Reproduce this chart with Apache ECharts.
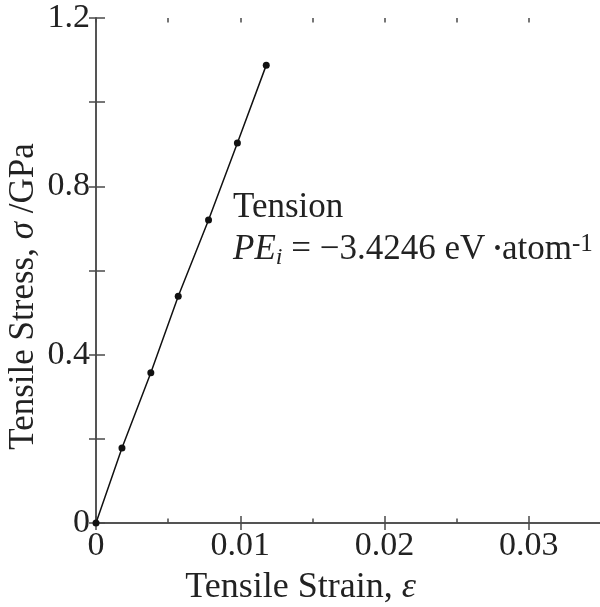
<!DOCTYPE html>
<html>
<head>
<meta charset="utf-8">
<script src="https://cdn.jsdelivr.net/npm/echarts@6/dist/echarts.min.js"></script>
<style>
  html, body { margin: 0; padding: 0; background: #fff; }
  #chart { width: 600px; height: 607px; }
</style>
</head>
<body>
<div id="chart"></div>
<script>
// Tensile stress–strain points (strain, stress in GPa)
const strain = [0, 0.0018, 0.0038, 0.0057, 0.0078, 0.0098, 0.0118];
const stress = [0, 0.178, 0.357, 0.539, 0.720, 0.903, 1.088];

// Axis ranges and tick spacing
const xRange = [0, 0.035];
const xMajor = 0.01;
const xMinor = 0.005;
const yRange = [0, 1.2];
const yTick = 0.2;
const yLabelStep = 0.4;

const FONT = "'Liberation Serif', 'Times New Roman', Times, serif";
const AXIS_COLOR = '#4a4a4a';
const TEXT_COLOR = '#222';

const chart = echarts.init(document.getElementById('chart'), null, { renderer: 'canvas' });

const gridBox = { left: 96, top: 18, width: 505, height: 505, containLabel: false, outerBoundsMode: 'none' };

const points = strain.map((x, i) => [x, stress[i]]);

function isMultiple(v, step) {
  const r = v / step;
  return Math.abs(r - Math.round(r)) < 1e-6;
}

const axisLineStyle = { show: true, lineStyle: { color: AXIS_COLOR, width: 1.5 } };

const option = {
  animation: false,
  backgroundColor: '#fff',
  grid: [
    Object.assign({}, gridBox),   // main grid: labels, major ticks, data
    Object.assign({}, gridBox)    // overlay grid: minor ticks on the strain axes
  ],
  title: {
    left: 233,
    top: 187,
    padding: 0,
    text: '{n|Tension}\n{it|PE}{sub|i}{n| = −3.4246 eV }{dot|•}{n|atom}{sup|-1}',
    textStyle: {
      fontFamily: FONT,
      fontWeight: 'normal',
      color: TEXT_COLOR,
      rich: {
        n: { fontFamily: FONT, fontSize: 35, lineHeight: 42, color: TEXT_COLOR },
        it: { fontFamily: FONT, fontSize: 35, fontStyle: 'italic', lineHeight: 42, color: TEXT_COLOR },
        sub: { fontFamily: FONT, fontSize: 24, fontStyle: 'italic', lineHeight: 42, padding: [16, 0, 0, 0], color: TEXT_COLOR },
        dot: { fontFamily: FONT, fontSize: 20, lineHeight: 42, padding: [0, 1, 0, 0], color: TEXT_COLOR },
        sup: { fontFamily: FONT, fontSize: 25, lineHeight: 42, padding: [0, 0, 12, 0], color: TEXT_COLOR }
      }
    }
  },
  xAxis: [
    {
      gridIndex: 0, type: 'value', position: 'bottom',
      min: xRange[0], max: xRange[1], interval: xMajor,
      axisLine: axisLineStyle,
      axisTick: { show: true, inside: true, length: 7, lineStyle: { color: AXIS_COLOR, width: 1.5 } },
      splitLine: { show: false },
      axisLabel: {
        show: true, margin: 6, showMaxLabel: false,
        fontFamily: FONT, fontSize: 34, color: TEXT_COLOR,
        formatter: v => (v === 0 ? '0' : (isMultiple(v, xMajor) ? v.toFixed(2) : ''))
      },
      name: 'Tensile Strain, {it|ε}',
      nameLocation: 'middle',
      nameGap: 47,
      nameTextStyle: {
        fontFamily: FONT, fontSize: 36, color: TEXT_COLOR, padding: [0, 96, 0, 0],
        rich: { it: { fontFamily: FONT, fontSize: 36, fontStyle: 'italic', color: TEXT_COLOR } }
      }
    },
    {
      gridIndex: 0, type: 'value', position: 'top',
      min: xRange[0], max: xRange[1], interval: xMajor,
      axisLine: axisLineStyle,
      axisTick: { show: true, inside: true, length: 7, lineStyle: { color: AXIS_COLOR, width: 1.5 } },
      axisLabel: { show: false },
      splitLine: { show: false }
    },
    {
      gridIndex: 1, type: 'value', position: 'bottom',
      min: xRange[0], max: xRange[1], interval: xMinor,
      axisLine: { show: false },
      axisTick: { show: true, inside: true, length: 4.5, lineStyle: { color: AXIS_COLOR, width: 1.5 } },
      axisLabel: { show: false },
      splitLine: { show: false }
    },
    {
      gridIndex: 1, type: 'value', position: 'top',
      min: xRange[0], max: xRange[1], interval: xMinor,
      axisLine: { show: false },
      axisTick: { show: true, inside: true, length: 4.5, lineStyle: { color: AXIS_COLOR, width: 1.5 } },
      axisLabel: { show: false },
      splitLine: { show: false }
    }
  ],
  yAxis: [
    {
      gridIndex: 0, type: 'value', position: 'left',
      min: yRange[0], max: yRange[1], interval: yTick,
      axisLine: axisLineStyle,
      axisTick: { show: true, inside: true, length: 9, lineStyle: { color: AXIS_COLOR, width: 1.5 } },
      splitLine: { show: false },
      axisLabel: {
        show: true, margin: 6,
        fontFamily: FONT, fontSize: 34, color: TEXT_COLOR,
        formatter: v => (v === 0 ? '0' : (isMultiple(v, yLabelStep) ? v.toFixed(1) : ''))
      },
      name: 'Tensile Stress, {it|σ} /GPa',
      nameLocation: 'middle',
      nameMoveOverlap: false,
      nameGap: 55,
      nameTextStyle: {
        fontFamily: FONT, fontSize: 35, color: TEXT_COLOR, padding: [0, 52, 0, 0],
        rich: { it: { fontFamily: FONT, fontSize: 35, fontStyle: 'italic', color: TEXT_COLOR } }
      }
    },
    {
      gridIndex: 0, type: 'value', position: 'right',
      min: yRange[0], max: yRange[1], interval: yTick,
      axisLine: axisLineStyle,
      axisTick: { show: true, inside: true, length: 7, lineStyle: { color: AXIS_COLOR, width: 1.5 } },
      axisLabel: { show: false },
      splitLine: { show: false }
    },
    {
      gridIndex: 1, type: 'value', show: false,
      min: yRange[0], max: yRange[1]
    }
  ],
  series: [
    {
      type: 'line',
      xAxisIndex: 0,
      yAxisIndex: 0,
      data: points,
      symbol: 'circle',
      symbolSize: 7,
      showSymbol: true,
      itemStyle: { color: '#111' },
      lineStyle: { color: '#111', width: 1.5 },
      z: 5
    }
  ]
};

chart.setOption(option);
</script>
</body>
</html>
